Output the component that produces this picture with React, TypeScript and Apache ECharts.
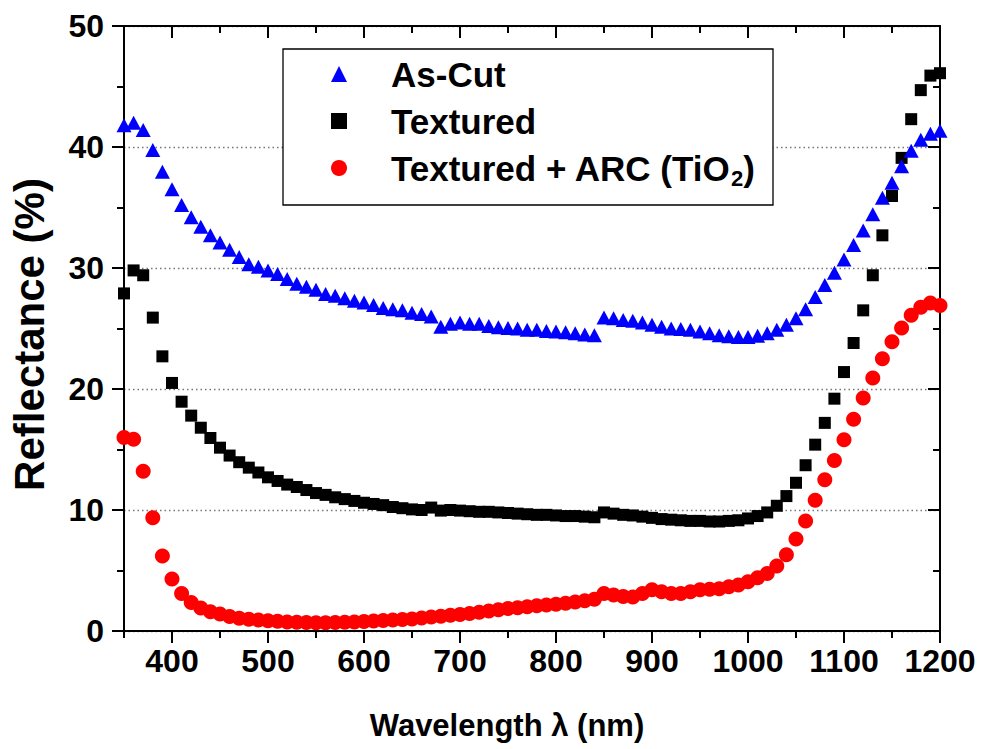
import React, { useEffect, useRef } from 'react';
import * as echarts from 'echarts';

const wavelengths: number[] = [
  350, 360, 370, 380, 390, 400, 410, 420, 430, 440, 450, 460, 470, 480, 490,
  500, 510, 520, 530, 540, 550, 560, 570, 580, 590, 600, 610, 620, 630, 640,
  650, 660, 670, 680, 690, 700, 710, 720, 730, 740, 750, 760, 770, 780, 790,
  800, 810, 820, 830, 840, 850, 860, 870, 880, 890, 900, 910, 920, 930, 940,
  950, 960, 970, 980, 990, 1000, 1010, 1020, 1030, 1040, 1050, 1060, 1070,
  1080, 1090, 1100, 1110, 1120, 1130, 1140, 1150, 1160, 1170, 1180, 1190, 1200,
];

const asCut: number[] = [
  41.8, 42.0, 41.4, 39.75, 37.95, 36.5, 35.2, 34.2, 33.4, 32.7, 32.1, 31.5, 30.9, 30.3, 30.1,
  29.8, 29.5, 29.1, 28.7, 28.45, 28.2, 27.85, 27.7, 27.5, 27.3, 27.15, 26.95, 26.7, 26.6, 26.5,
  26.3, 26.2, 26.0, 25.15, 25.4, 25.5, 25.4, 25.4, 25.2, 25.1, 25.05, 25.0, 24.9, 24.9, 24.8,
  24.75, 24.7, 24.6, 24.5, 24.45, 25.9, 25.85, 25.7, 25.65, 25.5, 25.3, 25.15, 25.0, 24.95, 24.9,
  24.75, 24.6, 24.45, 24.35, 24.3, 24.3, 24.4, 24.6, 24.9, 25.3, 25.85, 26.6, 27.6,
  28.6, 29.6, 30.7, 31.9, 33.1, 34.45, 35.8, 37.05, 38.4, 39.7, 40.6, 41.1, 41.35,
];

const textured: number[] = [
  27.9, 29.8, 29.4, 25.9, 22.7, 20.5, 18.95, 17.8, 16.8, 15.95, 15.15, 14.5, 13.95, 13.5, 13.1,
  12.7, 12.4, 12.1, 11.9, 11.65, 11.4, 11.25, 11.05, 10.9, 10.75, 10.6, 10.5, 10.4, 10.25, 10.15,
  10.05, 10.0, 10.2, 9.95, 10.0, 9.95, 9.9, 9.85, 9.85, 9.8, 9.75, 9.7, 9.65, 9.6, 9.6,
  9.55, 9.5, 9.5, 9.45, 9.4, 9.8, 9.7, 9.6, 9.55, 9.45, 9.35, 9.25, 9.2, 9.15, 9.1,
  9.1, 9.05, 9.05, 9.1, 9.15, 9.3, 9.5, 9.8, 10.35, 11.15, 12.25, 13.7, 15.4,
  17.2, 19.2, 21.4, 23.8, 26.5, 29.4, 32.7, 35.95, 39.1, 42.3, 44.7, 45.9, 46.1,
];

const texturedArc: number[] = [
  16.0, 15.85, 13.2, 9.35, 6.2, 4.3, 3.1, 2.35, 1.9, 1.6, 1.4, 1.2, 1.05, 0.97, 0.9,
  0.85, 0.8, 0.75, 0.72, 0.7, 0.68, 0.68, 0.7, 0.72, 0.75, 0.78, 0.82, 0.86, 0.9, 0.95,
  1.0, 1.07, 1.15, 1.22, 1.3, 1.37, 1.45, 1.55, 1.65, 1.75, 1.85, 1.93, 2.0, 2.08, 2.15,
  2.22, 2.3, 2.4, 2.5, 2.62, 3.1, 2.97, 2.85, 2.8, 3.1, 3.4, 3.25, 3.1, 3.1, 3.25,
  3.4, 3.45, 3.5, 3.65, 3.8, 4.07, 4.4, 4.75, 5.37, 6.3, 7.6, 9.1, 10.8,
  12.5, 14.1, 15.8, 17.5, 19.25, 20.9, 22.5, 23.9, 25.05, 26.1, 26.75, 27.1, 26.9,
];

const seriesNames: string[] = ['As-Cut', 'Textured', 'Textured + ARC (TiO2)'];
const xMajorTicks: number[] = [400, 500, 600, 700, 800, 900, 1000, 1100, 1200];
const xMinorTicks: number[] = [350, 450, 550, 650, 750, 850, 950, 1050, 1150];

const FONT = '"Liberation Sans", Arial, sans-serif';
const X_MIN = 350;
const X_MAX = 1200;

function pairs(ys: number[]): number[][] {
  return wavelengths.map((w, i) => [w, ys[i]]);
}

export default function App() {
  const ref = useRef<HTMLDivElement>(null);

  useEffect(() => {
    if (!ref.current) return;
    const chart = echarts.init(ref.current, null, { renderer: 'svg' });

    const tickLine = { color: '#000', width: 2 };
    const baseX = {
      type: 'value',
      min: X_MIN,
      max: X_MAX,
      gridIndex: 0,
      splitLine: { show: false },
    };

    const option: any = {
      animation: false,
      backgroundColor: '#fff',
      textStyle: { fontFamily: FONT },
      grid: { left: 124, right: 42, top: 26, bottom: 118, containLabel: false },
      xAxis: [
        {
          ...baseX,
          position: 'bottom',
          axisLine: { show: true, onZero: false, lineStyle: tickLine },
          axisTick: { show: true, inside: false, length: 12, lineStyle: tickLine, customValues: xMajorTicks },
          axisLabel: {
            show: true,
            customValues: xMajorTicks,
            formatter: (v: number) => String(v),
            fontSize: 32,
            fontWeight: 'bold',
            color: '#000',
            fontFamily: FONT,
            margin: 14,
          },
          name: 'Wavelength λ (nm)',
          nameLocation: 'middle',
          nameGap: 79,
          nameTextStyle: {
            fontSize: 31,
            fontWeight: 'bold',
            color: '#000',
            fontFamily: FONT,
            padding: [0, 50, 0, 0],
          },
        },
        {
          ...baseX,
          position: 'bottom',
          axisLine: { show: false, onZero: false },
          axisTick: { show: true, inside: false, length: 7, lineStyle: tickLine, customValues: xMinorTicks },
          axisLabel: { show: false },
        },
        {
          ...baseX,
          position: 'top',
          axisLine: { show: true, onZero: false, lineStyle: tickLine },
          axisTick: { show: true, inside: true, length: 12, lineStyle: tickLine, customValues: xMajorTicks },
          axisLabel: { show: false },
        },
        {
          ...baseX,
          position: 'top',
          axisLine: { show: false, onZero: false },
          axisTick: { show: true, inside: true, length: 7, lineStyle: tickLine, customValues: xMinorTicks },
          axisLabel: { show: false },
        },
      ],
      yAxis: [
        {
          type: 'value',
          position: 'left',
          min: 0,
          max: 50,
          interval: 10,
          axisLine: { show: true, onZero: false, lineStyle: tickLine },
          axisTick: { show: true, inside: false, length: 12, lineStyle: tickLine },
          minorTick: { show: true, splitNumber: 2, length: 7, lineStyle: tickLine },
          axisLabel: {
            formatter: (v: number) => String(v),
            fontSize: 32,
            fontWeight: 'bold',
            color: '#000',
            fontFamily: FONT,
            margin: 20,
          },
          splitLine: { show: true, lineStyle: { color: '#777', type: [1.5, 3], width: 1.3 } },
          name: 'Reflectance (%)',
          nameLocation: 'middle',
          nameRotate: 90,
          nameGap: 74,
          nameTextStyle: {
            fontSize: 42,
            fontWeight: 'bold',
            color: '#000',
            fontFamily: FONT,
            padding: [0, 12, 0, 0],
          },
        },
        {
          type: 'value',
          position: 'right',
          min: 0,
          max: 50,
          interval: 10,
          axisLine: { show: true, onZero: false, lineStyle: tickLine },
          axisTick: { show: true, inside: true, length: 12, lineStyle: tickLine },
          minorTick: { show: true, splitNumber: 2, length: 7, lineStyle: tickLine },
          axisLabel: { show: false },
          splitLine: { show: false },
        },
      ],
      graphic: [
        {
          type: 'rect',
          z: 9,
          shape: { x: 283, y: 49, width: 490, height: 156 },
          style: { fill: '#fff', stroke: '#000', lineWidth: 1.3 },
        },
      ],
      legend: {
        show: true,
        z: 10,
        orient: 'vertical',
        left: 331,
        top: 56,
        padding: 0,
        itemGap: 11,
        itemWidth: 16,
        itemHeight: 16,
        selectedMode: false,
        data: seriesNames,
        formatter: (name: string) =>
          name === 'Textured + ARC (TiO2)'
            ? '{a|Textured + ARC (TiO}{s|2}{a|)}'
            : '{a|' + name + '}',
        textStyle: {
          padding: [0, 0, 0, 39],
          lineHeight: 36,
          rich: {
            a: { fontSize: 35, fontWeight: 'bold', color: '#000', fontFamily: FONT, lineHeight: 36 },
            s: { fontSize: 22, fontWeight: 'bold', color: '#000', fontFamily: FONT, padding: [20, 0, 0, 0] },
          },
        },
      },
      series: [
        {
          name: 'Textured',
          type: 'scatter',
          xAxisIndex: 0,
          yAxisIndex: 0,
          symbol: 'rect',
          symbolSize: 12,
          itemStyle: { color: '#000', opacity: 1 },
          data: pairs(textured),
          z: 2,
        },
        {
          name: 'Textured + ARC (TiO2)',
          type: 'scatter',
          xAxisIndex: 0,
          yAxisIndex: 0,
          symbol: 'circle',
          symbolSize: 15,
          itemStyle: { color: '#ff0000', opacity: 1 },
          data: pairs(texturedArc),
          z: 3,
        },
        {
          name: 'As-Cut',
          type: 'scatter',
          xAxisIndex: 0,
          yAxisIndex: 0,
          symbol: 'triangle',
          symbolSize: [15, 14],
          itemStyle: { color: '#0000ff', opacity: 1 },
          data: pairs(asCut),
          z: 4,
        },
      ],
    };

    chart.setOption(option);
    return () => chart.dispose();
  }, []);

  return (
    <div
      ref={ref}
      style={{ position: 'absolute', left: 0, top: 0, width: 982, height: 749 }}
    />
  );
}
